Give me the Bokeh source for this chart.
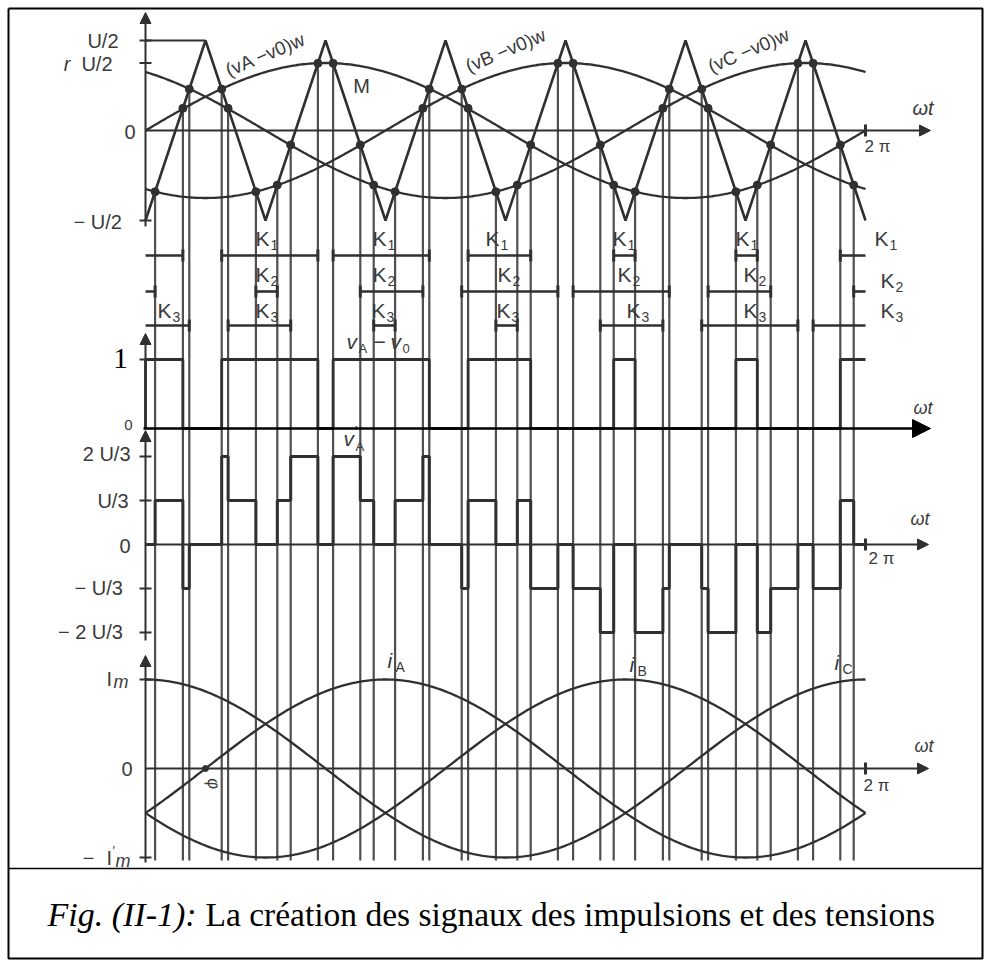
import numpy as np
from bokeh.plotting import figure
from bokeh.models import Range1d, Arrow, NormalHead
from bokeh.core.properties import value
from bokeh.embed import file_html
from bokeh.resources import INLINE

# ---------------------------------------------------------------- data
# triangular carrier, vertices (deg) and value (in units of U/2)
CARRIER_DEG = [0, 30, 60, 90, 120, 150, 180, 210, 240, 270, 300, 330, 360]
CARRIER_VAL = [-1, 1, -1, 1, -1, 1, -1, 1, -1, 1, -1, 1, -1]

# sinusoidal references (vX - v0)w : amplitude r (units of U/2), phase (deg)
REF_LABELS = ["(vA −v0)w", "(vB −v0)w", "(vC −v0)w"]
REF_AMPL = 0.75
REF_PHASE = [0, -120, 120]

# conduction intervals of the switches (deg of wt)
K1_ON = [(0.0, 18.7), (38.1, 86.2), (93.8, 141.9), (161.3, 192.6),
         (234.1, 244.8), (295.2, 305.9), (347.4, 360.0)]
K2_ON = [(0.0, 4.8), (55.2, 65.9), (107.4, 138.7), (158.1, 206.2),
         (213.8, 261.9), (281.3, 312.6), (354.1, 360.0)]
K3_ON = [(0.0, 21.9), (41.3, 72.6), (114.1, 124.8), (175.2, 185.9),
         (227.4, 258.7), (278.1, 326.2), (333.8, 360.0)]

# phase currents: amplitude (units of Im) and lag (deg)
CURRENT_LABELS = ["A", "B", "C"]
CURRENT_AMPL = 1.0
CURRENT_LAG = [30, 150, 270]

# ---------------------------------------------------------------- layout
W, H = 990, 967
X0, PXD = 145, 2.0          # screen column of wt = 0, pixels per degree


def xd(px):
    return (px - X0) / PXD


Y_REF, S_REF = 130, 90      # carrier / references panel
Y_K = [255, 291, 325]       # K1, K2, K3 rows
Y_PUL, S_PUL = 428, 69      # vA - v0 pulses
Y_V, S_V = 544, 44          # v'A, px per U/3
Y_I, S_I = 768, 89          # currents
Y_END = 860

INK = "#303030"
TXT = "#3a3a3a"
FONT = "Liberation Sans"
SERIF = "Liberation Serif"
LS = 20                     # label size

p = figure(width=W, height=H, x_range=Range1d(xd(0), xd(W)), y_range=Range1d(H, 0),
           x_axis_location=None, y_axis_location=None, toolbar_location=None,
           output_backend="svg", min_border=0, outline_line_color=None,
           background_fill_color="white", border_fill_color="white")
p.grid.visible = False


def txt(xpx, ypx, s, size=LS, align="left", baseline="middle", style="normal",
        font=FONT, color=TXT, angle=0.0):
    p.text(x=[xd(xpx)], y=[ypx], text=[s], text_font=value(font),
           text_font_size=f"{size}px", text_align=align, text_baseline=baseline,
           text_font_style=style, text_color=color, angle=angle)


def arrow(x0, y0, x1, y1, color=INK, width=2, size=11):
    p.add_layout(Arrow(end=NormalHead(size=size, fill_color=color, line_color=color),
                       x_start=x0, y_start=y0, x_end=x1, y_end=y1,
                       line_color=color, line_width=width))


def hticks(ys):
    p.segment(x0=xd(139), y0=ys, x1=xd(151), y1=ys, line_color=INK, line_width=2)


def on(intervals, t):
    return any(a <= t < b for a, b in intervals)


# ---------------------------------------------------------------- frame
bx = [xd(8), xd(982), xd(982), xd(8), xd(8)]
p.line(bx, [8, 8, 958, 958, 8], line_color="black", line_width=2)
p.line([xd(8), xd(982)], [868, 868], line_color="black", line_width=1.5)

# ---------------------------------------------------------------- switching instants
switch_deg = sorted(e for ons in (K1_ON, K2_ON, K3_ON) for a, b in ons for e in (a, b)
                    if 0 < e < 360)
switch_y = [Y_REF - S_REF * np.interp(t, CARRIER_DEG, CARRIER_VAL) for t in switch_deg]
p.segment(x0=switch_deg, y0=switch_y, x1=switch_deg, y1=Y_END,
          line_color="#505050", line_width=2.2)

# ---------------------------------------------------------------- panel 1 : carrier & references
arrow(0, 226, 0, 12)
arrow(0, Y_REF, xd(930), Y_REF)
hticks([Y_REF - S_REF, Y_REF - S_REF * REF_AMPL, Y_REF + S_REF])
p.segment(x0=360, y0=Y_REF - 6, x1=360, y1=Y_REF + 6, line_color=INK, line_width=3)
p.line([0, CARRIER_DEG[1]], [Y_REF - S_REF, Y_REF - S_REF], line_color=INK, line_width=1.8)

th = np.linspace(0, 360, 361)
for ph in REF_PHASE:
    p.line(th, Y_REF - S_REF * REF_AMPL * np.sin(np.radians(th + ph)),
           line_color=INK, line_width=2.3)
p.line(CARRIER_DEG, [Y_REF - S_REF * v for v in CARRIER_VAL], line_color=INK, line_width=2.6)
p.scatter(switch_deg, switch_y, size=8, color=INK)

txt(118, 40, "U/2", align="right")
txt(112, 63, "U/2", align="right")
txt(70, 63, "r", style="italic", align="right")
txt(135, 131, "0", align="right")
txt(127, 221, "−  U/2", align="right")
txt(361, 85, "M", align="center")
for lbl, (cx, cy) in zip(REF_LABELS, [(265, 54), (505, 50), (748, 50)]):
    txt(cx, cy, lbl, size=19, align="center", angle=0.40)
txt(912, 107, "ωt", style="italic")
txt(864, 146, "2 π", size=17)

# ---------------------------------------------------------------- K rows
for yk, ons in zip(Y_K, (K1_ON, K2_ON, K3_ON)):
    p.segment(x0=[a for a, b in ons], y0=yk, x1=[b for a, b in ons], y1=yk,
              line_color=INK, line_width=2.6)
    ends = [e for a, b in ons for e in (a, b) if 0 < e < 360]
    p.segment(x0=ends, y0=yk - 6, x1=ends, y1=yk + 6, line_color=INK, line_width=3)


def klabel(cx, cy, n):
    txt(cx - 11, cy, "K", size=21)
    txt(cx + 4, cy + 6, str(n), size=14)


for cx in [266, 383, 496, 623, 746, 885]:
    klabel(cx, 238, 1)
for cx in [266, 383, 508, 628, 754]:
    klabel(cx, 274, 2)
klabel(891, 280, 2)
for cx in [168, 266, 382, 507, 637, 754, 891]:
    klabel(cx, 310, 3)

# ---------------------------------------------------------------- panel 3 : vA - v0 pulses
arrow(0, Y_PUL, 0, 333)
arrow(xd(143), Y_PUL, xd(930), Y_PUL, color="black", width=2.5, size=18)
px_, py_ = [0], [Y_PUL]
for a, b in K1_ON:
    px_ += [a, a, b]
    py_ += [Y_PUL, Y_PUL - S_PUL, Y_PUL - S_PUL]
    if b < 360:
        px_.append(b)
        py_.append(Y_PUL)
p.line(px_, py_, line_color=INK, line_width=2.8)
hticks([Y_PUL - S_PUL])
txt(120, 358, "1", size=30, align="center", font=SERIF, color="black")
txt(128, 429, "0", size=15, align="center", baseline="bottom")
txt(346, 341, "v", style="italic", size=21)
txt(358, 348, "A", size=13)
txt(373, 341, "−", size=21)
txt(390, 341, "v", style="italic", size=21)
txt(402, 348, "0", size=13)
txt(913, 407, "ωt", style="italic", size=18)

# ---------------------------------------------------------------- panel 4 : v'A
arrow(0, 640, 0, 430)
arrow(0, Y_V, xd(928), Y_V)
hticks([Y_V - 2 * S_V, Y_V - S_V, Y_V + S_V, Y_V + 2 * S_V])
p.segment(x0=360, y0=Y_V - 6, x1=360, y1=Y_V + 6, line_color=INK, line_width=3)
edges = sorted(set([0.0, 360.0] + switch_deg))
vx, vy = [], []
for e0, e1 in zip(edges[:-1], edges[1:]):
    mid = 0.5 * (e0 + e1)
    lvl = 2 * on(K1_ON, mid) - on(K2_ON, mid) - on(K3_ON, mid)
    vx += [e0, e1]
    vy += [Y_V - S_V * lvl, Y_V - S_V * lvl]
p.line(vx, vy, line_color=INK, line_width=3)
txt(130, 453, "2 U/3", align="right")
txt(128, 500, "U/3", align="right")
txt(130, 545, "0", align="right")
txt(128, 587, "−  U/3", align="right")
txt(128, 631, "−  2 U/3", align="right")
txt(343, 438, "v", style="italic", size=21)
txt(354, 430, "′", size=15)
txt(355, 446, "A", size=13)
txt(910, 518, "ωt", style="italic", size=18)
txt(868, 558, "2 π", size=17)

# ---------------------------------------------------------------- panel 5 : phase currents
arrow(0, 862, 0, 655)
arrow(0, Y_I, xd(928), Y_I)
hticks([Y_I - S_I, Y_I + S_I])
p.segment(x0=360, y0=Y_I - 6, x1=360, y1=Y_I + 6, line_color=INK, line_width=3)
for lag in CURRENT_LAG:
    p.line(th, Y_I - S_I * CURRENT_AMPL * np.sin(np.radians(th - lag)),
           line_color=INK, line_width=2.3)
p.scatter([CURRENT_LAG[0]], [Y_I], size=6, color=INK)
for (cx, cy), name in zip([(387, 660), (629, 664), (834, 662)], CURRENT_LABELS):
    txt(cx, cy, "i", style="italic", size=21)
    txt(cx + 8, cy + 6, name, size=14)
txt(393, 651, "′", size=13)
txt(213, 783, "φ", style="italic", size=17, align="center", angle=-1.4)
txt(106, 678, "I", size=20)
txt(113, 681, "m", style="italic", size=18)
txt(94, 857, "−", align="right")
txt(106, 857, "I", size=20)
txt(112, 850, "′", size=13)
txt(115, 860, "m", style="italic", size=18)
txt(132, 768, "0", align="right")
txt(914, 745, "ωt", style="italic", size=18)
txt(863, 785, "2 π", size=17)

# ---------------------------------------------------------------- caption
txt(47, 914, "Fig. (II-1):", size=34, style="italic", font=SERIF, color="black")
txt(205, 914, "La création des signaux des impulsions et des tensions", size=33.5,
    font=SERIF, color="black")

open("out.html", "w").write(file_html(p, INLINE, "PWM"))
